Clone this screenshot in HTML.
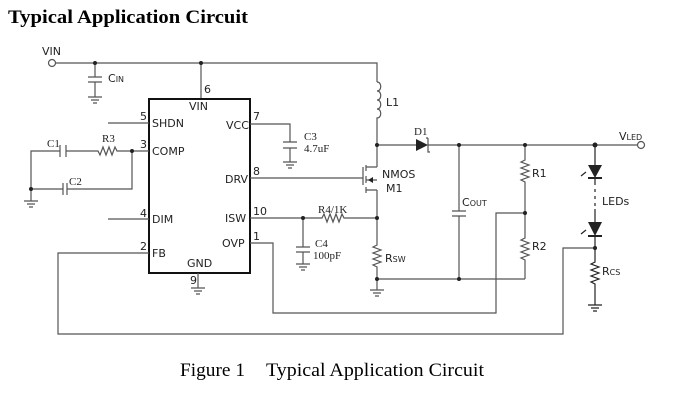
<!DOCTYPE html>
<html><head><style>
body{margin:0;background:#fff;width:682px;height:402px;overflow:hidden}
svg{display:block}
.t{font-family:"DejaVu Sans","Liberation Sans",sans-serif;font-size:11px;fill:#222}
.s{font-family:"Liberation Serif",serif;font-size:11px;fill:#222}
</style></head><body>
<svg width="682" height="402" viewBox="0 0 682 402" xmlns="http://www.w3.org/2000/svg">
<text x="8" y="23" font-family="Liberation Serif,serif" font-weight="bold" font-size="19" fill="#000" textLength="240" lengthAdjust="spacingAndGlyphs">Typical Application Circuit</text>
<g stroke="#555" stroke-width="1.2" fill="none">
<circle cx="52" cy="63" r="3.5" fill="#fff"/>
<path d="M55.5 63H377V82"/>
<path d="M95 63V77M88 77H102M88 82H102M95 82V97M88 97H102M91 100H99M93 103H97"/>
<path d="M201 63V99"/>
<rect x="149" y="99" width="101" height="174" stroke="#111" stroke-width="2"/>
<path d="M108 123H149M108 219H149"/>
<path d="M149 151H132M132 151H117l-2 -4l-3 8l-3 -8l-3 8l-3 -8l-3 8l-2 -4H66M60 151H31V189H63M67 189H132V151"/>
<path d="M60 145V157M66 145V157M63 183V195M67 183V195"/>
<path d="M31 189V201M24 201H38M27 204H35M29 207H33"/>
<path d="M250 124H290V142M283 142H297M283 148H297M290 148V162M283 162H297M286 165H294M288 168H292"/>
<path d="M250 178H363M363 167V185"/>
<path d="M366 165V171M366 176V183M366 187V193M366 167H377M366 190H377M366 180H377"/>
<path d="M250 218H322l2 -4l3 8l3 -8l3 8l3 -8l3 8l3 -8l2 4H377"/>
<path d="M303 218V247M296 247H310M296 252H310M303 252V264M296 264H310M299 267H307M301 270H305"/>
<path d="M250 243H273V313H496V213H525"/>
<path d="M149 253H58V334H563V248H595"/>
<path d="M198 273V288M191 288H205M194 291H202M196 294H200"/>
<path d="M377 82c5 0 5 9 0 9c5 0 5 9 0 9c5 0 5 9 0 9c5 0 5 9 0 9V167M377 190V245l-4 2l8 3l-8 3l8 3l-8 3l8 3l-8 3l4 2V290M370 290H384M373 293H381M375 296H379"/>
<path d="M377 145H416M428 145H637"/>
<circle cx="641" cy="145" r="3.5" fill="#fff"/>
<path d="M428 138V152l2 0M428 138l-2 0"/>
<path d="M459 145V211M452 211H466M452 216H466M459 216V279"/>
<path d="M377 279H525"/>
<path d="M525 145V160l-4 2l8 3l-8 3l8 3l-8 3l8 3l-8 3l4 2V238l-4 2l8 3l-8 3l8 3l-8 3l8 3l-8 3l4 2V279"/>
<path d="M595 145V165M595 178V185M595 189V192M595 196V199M595 203V206M595 209V222M595 236V262l-4 2l8 3l-8 3l8 3l-8 3l8 3l-8 3l4 2V305M588 305H602M591 308H599M593 311H597" stroke="#222"/>
<path d="M588 178H602M588 236H602" stroke="#222" stroke-width="2"/>
<path d="M586 172l-5 4M586 230l-5 4" stroke="#222"/>
</g>
<path d="M416 139V151L428 145Z" fill="#222"/>
<path d="M588 165H602L595 178Z" fill="#222"/>
<path d="M588 222H602L595 236Z" fill="#222"/>
<path d="M368 180l5 -3v6Z" fill="#222"/>
<g fill="#222">
<circle cx="95" cy="63" r="2"/><circle cx="201" cy="63" r="2"/><circle cx="132" cy="151" r="2"/><circle cx="31" cy="189" r="2"/>
<circle cx="377" cy="145" r="2"/><circle cx="459" cy="145" r="2"/><circle cx="525" cy="145" r="2"/><circle cx="595" cy="145" r="2.5"/>
<circle cx="377" cy="218" r="2"/><circle cx="303" cy="218" r="2"/><circle cx="377" cy="279" r="2"/><circle cx="459" cy="279" r="2"/>
<circle cx="525" cy="213" r="2"/><circle cx="595" cy="248" r="2"/>
</g>
<text class="t" x="42" y="55">VIN</text>
<text class="t" x="108" y="82">C<tspan font-size="8">IN</tspan></text>
<text class="t" x="204" y="93">6</text>
<text class="t" x="189" y="110">VIN</text>
<text class="t" x="140" y="120">5</text><text class="t" x="152" y="127">SHDN</text>
<text class="t" x="140" y="148">3</text><text class="t" x="152" y="155">COMP</text>
<text class="t" x="140" y="217">4</text><text class="t" x="152" y="223">DIM</text>
<text class="t" x="140" y="250">2</text><text class="t" x="152" y="257">FB</text>
<text class="t" x="187" y="267">GND</text>
<text class="t" x="190" y="284">9</text>
<text class="t" x="226" y="129">VCC</text><text class="t" x="253" y="120">7</text>
<text class="t" x="225" y="183">DRV</text><text class="t" x="253" y="175">8</text>
<text class="t" x="225" y="222">ISW</text><text class="t" x="253" y="215">10</text>
<text class="t" x="222" y="247">OVP</text><text class="t" x="253" y="240">1</text>
<text class="s" x="47" y="147">C1</text><text class="s" x="102" y="142">R3</text>
<text class="s" x="69" y="185">C2</text>
<text class="s" x="304" y="140">C3</text><text class="s" x="304" y="152">4.7uF</text>
<text class="s" x="318" y="213" font-size="10">R4/1K</text>
<text class="s" x="315" y="247" font-size="10">C4</text><text class="s" x="313" y="259" font-size="10">100pF</text>
<text class="t" x="386" y="106">L1</text>
<text class="s" x="414" y="135">D1</text>
<text class="t" x="382" y="178">NMOS</text><text class="t" x="386" y="192">M1</text>
<text class="t" x="385" y="262">R<tspan font-size="8">SW</tspan></text>
<text class="t" x="462" y="206">C<tspan font-size="8">OUT</tspan></text>
<text class="t" x="532" y="177">R1</text><text class="t" x="532" y="250">R2</text>
<text class="t" x="619" y="140">V<tspan font-size="8">LED</tspan></text>
<text class="t" x="602" y="205">LEDs</text>
<text class="t" x="602" y="275">R<tspan font-size="8">CS</tspan></text>
<text x="180" y="376" font-family="Liberation Serif,serif" font-size="18.5" fill="#000" textLength="65" lengthAdjust="spacingAndGlyphs">Figure 1</text>
<text x="266" y="376" font-family="Liberation Serif,serif" font-size="18.5" fill="#000" textLength="218" lengthAdjust="spacingAndGlyphs">Typical Application Circuit</text>
</svg>
</body></html>
